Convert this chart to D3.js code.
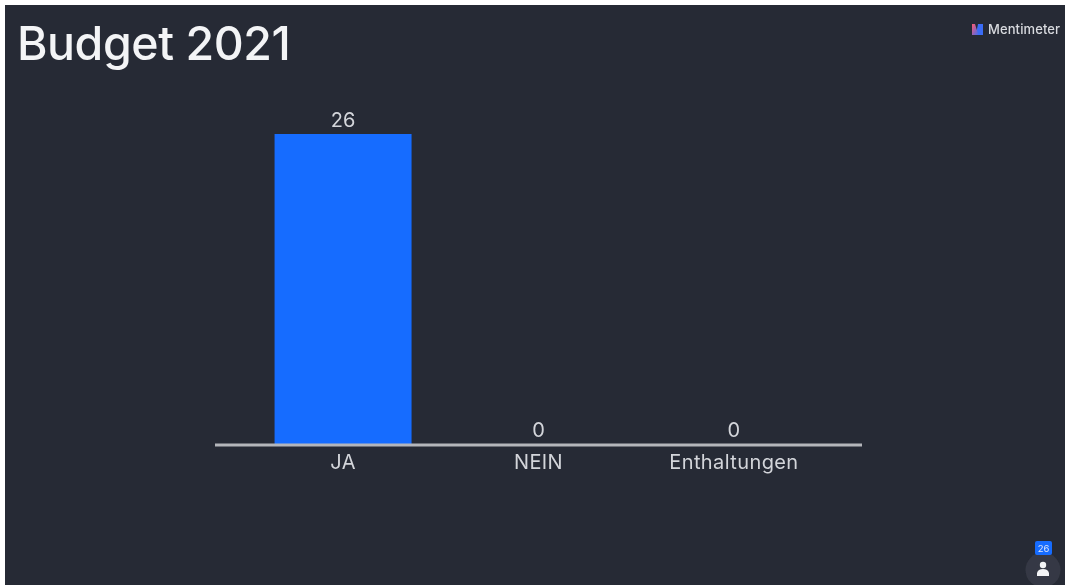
<!DOCTYPE html>
<html><head><meta charset="utf-8">
<script src="https://cdn.jsdelivr.net/npm/d3@7"></script>
<style>
html,body{margin:0;padding:0;background:#fff;overflow:hidden}
svg{display:block}
text{font-family:Inter,"Noto Sans",sans-serif}
</style></head><body><svg id="c" width="1065" height="585"></svg>
<script>
const categories = ["JA","NEIN","Enthaltungen"];
const votes = [26,0,0];
const chartTitle = "Budget 2021";
const brandName = "Mentimeter";
const participants = 26;

const svg = d3.select("#c");
const defs = svg.append("defs");
defs.append("filter").attr("id","soft").append("feGaussianBlur").attr("stdDeviation",0.6);
const grad = defs.append("linearGradient").attr("id","logoBlue").attr("x1",0).attr("y1",0).attr("x2",1).attr("y2",1);
grad.append("stop").attr("offset",0).attr("stop-color","#ff5a6e");
grad.append("stop").attr("offset",1).attr("stop-color","#3b6cf6");

svg.append("rect").attr("x",5).attr("y",5).attr("width",1060).attr("height",580).attr("fill","#262a35");
const g = svg.append("g").attr("filter","url(#soft)");

const x = d3.scaleBand().domain(categories).range([245.25,831.75]).paddingInner(0.299).paddingOuter(0.15);
const y = d3.scaleLinear().domain([0,26]).range([444,134]);

g.append("text").attr("x",17).attr("y",60).attr("font-size",46.5).attr("font-weight",500)
  .attr("letter-spacing",-0.45).attr("fill","#f3f4f6").text(chartTitle);

g.selectAll("rect.bar").data(votes).join("rect").attr("class","bar")
  .attr("x",(d,i)=>x(categories[i])).attr("width",x.bandwidth())
  .attr("y",d=>y(d)).attr("height",d=>y(0)-y(d)).attr("fill","#196cff");

const axis = d3.axisBottom(x).tickSize(0).tickPadding(10);
const ax = g.append("g").attr("transform",`translate(0,${y(0)+1})`).call(axis);
ax.select(".domain").remove();
ax.selectAll("text").attr("font-size",20).attr("letter-spacing",0.4).attr("fill","#d3d5da").attr("font-family","Inter").attr("dy","0.71em");
g.append("line").attr("x1",215).attr("x2",862).attr("y1",y(0)+1).attr("y2",y(0)+1)
  .attr("stroke","#b4b6bb").attr("stroke-width",3);

g.selectAll("text.val").data(votes).join("text").attr("class","val")
  .attr("x",(d,i)=>x(categories[i])+x.bandwidth()/2).attr("y",d=>y(d)-7)
  .attr("text-anchor","middle").attr("font-size",20).attr("fill","#d3d5da").text(d=>d);

// brand mark
const logo = g.append("g").attr("transform","translate(972,24)");
logo.append("path").attr("d","M5 5L6 0L11 0L11 11L5 11Z").attr("fill","#3b6cf6");
logo.append("path").attr("d","M0 0L3 0L6.5 11L0 11Z").attr("fill","url(#logoBlue)");
g.append("text").attr("x",988).attr("y",34).attr("font-size",13).attr("font-weight",500)
  .attr("letter-spacing",0.1).attr("fill","#d8dadf").text(brandName);

// participant counter
g.append("circle").attr("cx",1043).attr("cy",570).attr("r",17.5).attr("fill","#353944");
g.append("circle").attr("cx",1043).attr("cy",565).attr("r",3.2).attr("fill","#f3f4f6");
g.append("path").attr("d","M1037 576L1037 573Q1038 569 1043 569Q1048 569 1049 573L1049 576Z").attr("fill","#f3f4f6");
g.append("rect").attr("x",1035).attr("y",541).attr("width",17).attr("height",14).attr("rx",2).attr("fill","#196cff");
g.append("text").attr("x",1043.5).attr("y",552).attr("text-anchor","middle").attr("font-size",9.5).attr("fill","#dfe6f5").text(participants);
</script></body></html>
